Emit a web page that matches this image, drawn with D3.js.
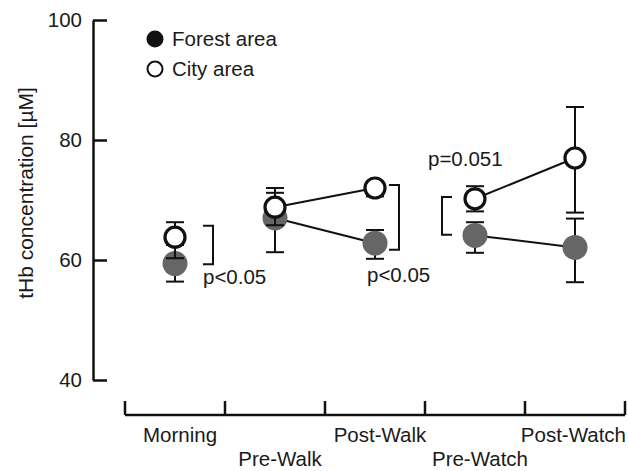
<!DOCTYPE html>
<html>
<head>
<meta charset="utf-8">
<script src="https://cdn.jsdelivr.net/npm/d3@7"></script>
<style>
  body { margin: 0; background: #fff; }
  text { font-family: "Liberation Sans", Arial, sans-serif; fill: #1a1a1a; }
</style>
</head>
<body>
<div id="viz"></div>
<script>
// chart data
var categories = ['Morning', 'Pre-Walk', 'Post-Walk', 'Pre-Watch', 'Post-Watch'];
var cityMean   = [63.8, 68.8, 72.0, 70.2, 77.0];
var cityHi     = [66.3, 72.0, 73.0, 72.3, 85.5];
var cityLo     = [60.3, 65.8, 70.6, 68.1, 67.9];
var forestMean = [59.4, 67.0, 62.8, 64.1, 62.1];
var forestHi   = [62.5, 71.2, 65.0, 66.3, 66.9];
var forestLo   = [56.4, 61.3, 60.2, 61.2, 56.3];
var yTicks = [40, 60, 80, 100];
// pairs of time points joined by a line
var segments = [[1, 2], [3, 4]];
// significance brackets: category, value span, label
var brackets = [
  {cat: 'Morning',   top: 65.7, bottom: 59.3, label: 'p<0.05'},
  {cat: 'Post-Walk', top: 72.5, bottom: 61.7, label: 'p<0.05'},
  {cat: 'Pre-Watch', top: 70.5, bottom: 64.2, label: 'p=0.051'}
];
// bracket styling (offsets from the category centre / bracket end)
var bracketStyle = {
  'Morning':   {dx: 38, arm: -10, lx: 28, ldy: 20},
  'Post-Walk': {dx: 24, arm: -10, lx: -8, ldy: 32},
  'Pre-Watch': {dx: -33, arm: 10, lx: -47, ldy: -31}
};

var W = 628, H = 471;
var svg = d3.select('#viz').append('svg')
  .attr('width', W)
  .attr('height', H);

var y = d3.scaleLinear().domain([40, 100]).range([380, 20]);
var x = d3.scaleBand().domain(categories).range([125, 625]).padding(0);
function cx(c) { return x(c) + x.bandwidth() / 2; }

// y axis - ticks point inward
var yAxis = svg.append('g')
  .attr('transform', 'translate(93,0)')
  .call(d3.axisLeft(y).tickValues(yTicks).tickSizeInner(-14).tickSizeOuter(0).tickPadding(11));
yAxis.select('.domain').attr('stroke', '#111').attr('stroke-width', 2.5);
yAxis.selectAll('.tick line').attr('stroke', '#111').attr('stroke-width', 2.5);
yAxis.selectAll('.tick text')
  .style('font-family', '"Liberation Sans", Arial, sans-serif')
  .style('font-size', '20.5px')
  .attr('fill', '#1a1a1a');

svg.append('text')
  .attr('transform', 'translate(33,' + 193 + ') rotate(-90)')
  .attr('text-anchor', 'middle')
  .style('font-size', '21px')
  .text('tHb concentration [\u00b5M]');

// x axis - a separate baseline with upward ticks at band edges
var xBase = 415;
var edges = categories.map(function(c) { return x(c); }).concat([x.range()[1]]);
svg.append('line')
  .attr('x1', edges[0]).attr('x2', edges[edges.length - 1])
  .attr('y1', xBase).attr('y2', xBase)
  .attr('stroke', '#111').attr('stroke-width', 2.5);
svg.selectAll('.xtick')
  .data(edges)
  .enter().append('line')
  .attr('class', 'xtick')
  .attr('x1', function(d) { return d; }).attr('x2', function(d) { return d; })
  .attr('y1', xBase - 14).attr('y2', xBase)
  .attr('stroke', '#111').attr('stroke-width', 2.5);

// category labels alternate between two rows
svg.selectAll('.xlabel')
  .data(categories)
  .enter().append('text')
  .attr('class', 'xlabel')
  .attr('x', function(d) { return cx(d) + 5; })
  .attr('y', function(d, i) { return i % 2 === 0 ? 442 : 466; })
  .attr('text-anchor', 'middle')
  .style('font-size', '20.5px')
  .text(function(d) { return d; })
  .each(function() {
    // keep the last label inside the picture
    var box = this.getBBox();
    if (box.x + box.width > W - 2) {
      d3.select(this).attr('x', +d3.select(this).attr('x') - (box.x + box.width - (W - 2)));
    }
  });

// connecting lines
var line = d3.line()
  .x(function(d) { return cx(categories[d.i]); })
  .y(function(d) { return y(d.v); });
[cityMean, forestMean].forEach(function(series) {
  segments.forEach(function(s) {
    svg.append('path')
      .datum(s.map(function(i) { return {i: i, v: series[i]}; }))
      .attr('d', line)
      .attr('fill', 'none')
      .attr('stroke', '#111')
      .attr('stroke-width', 2);
  });
});

// error bars
function errorBars(cls, lo, hi) {
  var g = svg.append('g').attr('class', cls);
  categories.forEach(function(c, i) {
    var px = cx(c);
    g.append('line')
      .attr('x1', px).attr('x2', px)
      .attr('y1', y(lo[i])).attr('y2', y(hi[i]))
      .attr('stroke', '#111').attr('stroke-width', 2);
    [lo[i], hi[i]].forEach(function(v) {
      g.append('line')
        .attr('x1', px - 9).attr('x2', px + 9)
        .attr('y1', y(v)).attr('y2', y(v))
        .attr('stroke', '#111').attr('stroke-width', 2);
    });
  });
}

errorBars('forestErr', forestLo, forestHi);
svg.selectAll('.forest')
  .data(forestMean)
  .enter().append('circle')
  .attr('class', 'forest')
  .attr('cx', function(d, i) { return cx(categories[i]); })
  .attr('cy', function(d) { return y(d); })
  .attr('r', 12.5)
  .attr('fill', '#666');

errorBars('cityErr', cityLo, cityHi);
svg.selectAll('.city')
  .data(cityMean)
  .enter().append('circle')
  .attr('class', 'city')
  .attr('cx', function(d, i) { return cx(categories[i]); })
  .attr('cy', function(d) { return y(d); })
  .attr('r', 10)
  .attr('fill', '#fff')
  .attr('stroke', '#111')
  .attr('stroke-width', 3.2);

// significance brackets
brackets.forEach(function(b) {
  var st = bracketStyle[b.cat];
  var bx = cx(b.cat) + st.dx;
  var y1 = y(b.top), y2 = y(b.bottom);
  svg.append('path')
    .attr('d', 'M' + (bx + st.arm) + ',' + y1 + 'H' + bx + 'V' + y2 + 'H' + (bx + st.arm))
    .attr('fill', 'none')
    .attr('stroke', '#111')
    .attr('stroke-width', 2);
  svg.append('text')
    .attr('x', cx(b.cat) + st.lx)
    .attr('y', (st.ldy > 0 ? y2 : y1) + st.ldy)
    .style('font-size', '20.5px')
    .text(b.label);
});

// legend
var legend = svg.append('g').attr('transform', 'translate(155,39)');
legend.append('circle').attr('cx', 0).attr('cy', 0).attr('r', 8.5).attr('fill', '#111');
legend.append('text').attr('x', 17).attr('y', 0).attr('dy', '0.35em').style('font-size', '20.5px').text('Forest area');
legend.append('circle').attr('cx', 0).attr('cy', 30).attr('r', 7.5)
  .attr('fill', '#fff').attr('stroke', '#111').attr('stroke-width', 2);
legend.append('text').attr('x', 17).attr('y', 30).attr('dy', '0.35em').style('font-size', '20.5px').text('City area');
</script>
</body>
</html>
